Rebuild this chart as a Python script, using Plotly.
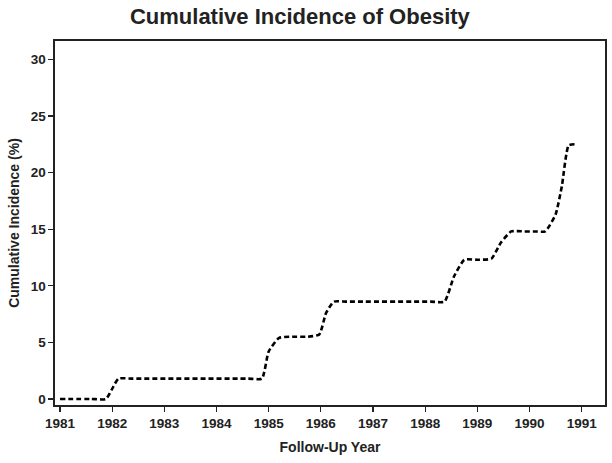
import plotly.graph_objects as go

# Follow-up year (x) and cumulative incidence % (y)
years = [1981.0, 1981.6, 1981.88, 1982.0, 1982.12, 1982.4, 1984.6, 1984.87,
         1985.0, 1985.2, 1985.45, 1985.75, 1985.97, 1986.1, 1986.25, 1986.5,
         1988.1, 1988.37, 1988.55, 1988.75, 1989.0, 1989.27, 1989.45, 1989.65,
         1989.9, 1990.1, 1990.3, 1990.5, 1990.62, 1990.75, 1990.88]
incidence = [0.0, 0.0, 0.0, 0.9, 1.8, 1.8, 1.8, 1.8,
             4.2, 5.4, 5.5, 5.5, 5.7, 7.6, 8.6, 8.6,
             8.6, 8.6, 10.8, 12.3, 12.3, 12.4, 13.8, 14.8,
             14.8, 14.8, 14.8, 16.3, 18.8, 22.4, 22.5]

x_ticks = list(range(1981, 1992))
y_ticks = [0, 5, 10, 15, 20, 25, 30]

font_family = "Liberation Sans, Arial, sans-serif"

fig = go.Figure()
fig.add_trace(go.Scatter(
    x=years, y=incidence, mode="lines",
    line=dict(color="black", width=2.6, dash="5px,3px", shape="spline", smoothing=0.5),
    showlegend=False, hoverinfo="skip",
))

fig.update_layout(
    width=612, height=463,
    paper_bgcolor="white", plot_bgcolor="white",
    margin=dict(l=55, r=7, t=41, b=58),
    title=dict(text="<b>Cumulative Incidence of Obesity</b>", x=0.49, xref="container",
               xanchor="center", y=0.965, yanchor="middle",
               font=dict(family=font_family, size=22, color="#222")),
    font=dict(family=font_family, color="#222"),
)
fig.update_xaxes(
    range=[1980.904, 1991.447], tickvals=x_ticks,
    ticktext=[f"<b>{t}</b>" for t in x_ticks],
    ticks="outside", ticklen=5, tickwidth=1.2, tickcolor="#222",
    showline=True, linecolor="#222", linewidth=1.6, mirror=True,
    showgrid=False, zeroline=False, automargin=False,
    tickfont=dict(size=13.5, color="#222"),
    title=dict(text="<b>Follow-Up Year</b>", font=dict(size=14, color="#222"), standoff=12),
)
fig.update_yaxes(
    range=[-0.53, 31.62], tickvals=y_ticks,
    ticktext=[f"<b>{t}</b>" for t in y_ticks],
    ticks="outside", ticklen=5, tickwidth=1.2, tickcolor="#222",
    showline=True, linecolor="#222", linewidth=1.6, mirror=True,
    showgrid=False, zeroline=False, automargin=False,
    tickfont=dict(size=13.5, color="#222"),
    title=dict(text="<b>Cumulative Incidence (%)</b>", font=dict(size=14, color="#222"), standoff=8),
)

fig.write_html("out.html", config={"displayModeBar": False, "staticPlot": True},
               post_script="document.body.style.margin='0';document.body.style.overflow='hidden';")
